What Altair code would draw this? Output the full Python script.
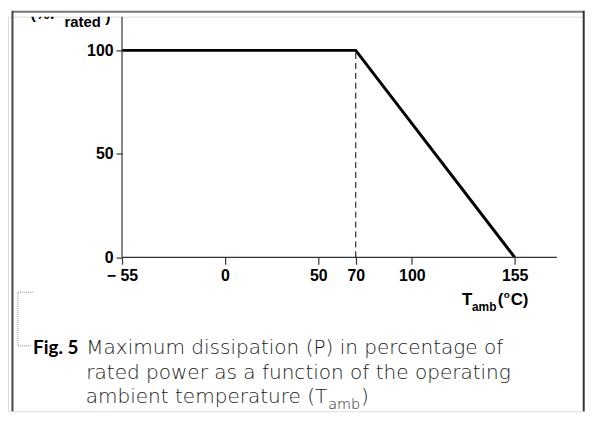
import altair as alt
import pandas as pd

# ---- data ----
temp = [-55, 70, 155]          # ambient temperature, degC
power = [100, 100, 0]          # % of rated power
x_ticks = [-55, 0, 50, 70, 100, 155]
y_ticks = [0, 50, 100]
knee_temp = [70]
knee_power = [100]
axis_x_end = [177.6]

# ---- scale geometry ----
X_DOMAIN = [-115.97, 192.61]
Y_DOMAIN = [-74.41, 116.29]
W, H = 582, 398

xs = alt.Scale(domain=X_DOMAIN, nice=False, zero=False)
ys = alt.Scale(domain=Y_DOMAIN, nice=False, zero=False)

curve = pd.DataFrame({"t": temp, "p": power})
one = pd.DataFrame({"d": [0]})

AX_FONT = "Liberation Sans"

x_axis = alt.Axis(
    values=x_ticks, domain=False, grid=False, ticks=True, tickSize=7,
    tickColor="#333333", tickWidth=1.2, labelFont=AX_FONT, labelFontWeight="bold",
    labelFontSize=16, labelColor="black", labelPadding=3, offset=-155.3,
    labelFlush=False, labelOverlap=False, title=None,
    labelExpr="datum.value == -55 ? '\u2212 55' : datum.label",
)
y_axis = alt.Axis(
    values=y_ticks, domain=False, grid=False, ticks=True, tickSize=6,
    tickColor="#333333", tickWidth=1.2, labelFont=AX_FONT, labelFontWeight="bold",
    labelFontSize=16, labelColor="black", labelPadding=3, offset=-115,
    labelFlush=False, labelOverlap=False, title=None,
)

line = alt.Chart(curve).mark_line(color="black", strokeWidth=3, strokeJoin="miter").encode(
    x=alt.X("t:Q", scale=xs, axis=x_axis),
    y=alt.Y("p:Q", scale=ys, axis=y_axis),
)

# axis lines
xline = alt.Chart(pd.DataFrame({"t": [temp[0]], "t2": axis_x_end, "p": [0]})).mark_rule(
    color="#333333", strokeWidth=1.2).encode(
    x=alt.X("t:Q", scale=xs), x2="t2:Q", y=alt.Y("p:Q", scale=ys))
yline = alt.Chart(pd.DataFrame({"t": [temp[0]], "p": [0], "p2": [Y_DOMAIN[1]]})).mark_rule(
    color="#333333", strokeWidth=1.2).encode(
    x=alt.X("t:Q", scale=xs), y=alt.Y("p:Q", scale=ys), y2="p2:Q")

# dashed knee line
dash = alt.Chart(pd.DataFrame({"t": knee_temp, "p": [0], "p2": knee_power})).mark_rule(
    color="black", strokeWidth=1, strokeDash=[6, 4]).encode(
    x=alt.X("t:Q", scale=xs), y=alt.Y("p:Q", scale=ys), y2="p2:Q")

layers = [line, xline, yline, dash]

def rule(x, y, x2=None, y2=None, color="#555555", width=2, dashp=None):
    enc = dict(x=alt.value(x), y=alt.value(y))
    if x2 is not None:
        enc["x2"] = alt.value(x2)
    if y2 is not None:
        enc["y2"] = alt.value(y2)
    kw = dict(color=color, strokeWidth=width)
    if dashp:
        kw["strokeDash"] = dashp
    return alt.Chart(one).mark_rule(**kw).encode(**enc)

# frame
layers += [
    rule(4.5, -5, x2=580.7, y2=-5, color="#777777", width=2),
    rule(4.5, -6, y2=H, color="#444444", width=2),
    rule(580.7, -6, y2=H, color="#333333", width=2),
]

# dotted bracket
layers += [
    rule(10, 278, y2=332, color="#888888", width=1, dashp=[1, 1]),
    rule(10, 278, x2=26, y2=278, color="#888888", width=1, dashp=[1, 1]),
    rule(10, 332, x2=24, y2=332, color="#888888", width=1, dashp=[1, 1]),
]

def txt(s, x, y, size, font=AX_FONT, weight="bold", align="left", color="black", clip=False):
    return alt.Chart(one).mark_text(
        text=s, font=font, fontSize=size, fontWeight=weight, align=align,
        baseline="alphabetic", color=color, clip=clip,
    ).encode(x=alt.value(x), y=alt.value(y))

# x-axis title T_amb (oC)
layers += [
    txt("T", 458, 291, 17),
    txt("amb", 468, 297, 12),
    txt("(", 494, 291, 17),
    txt("o", 500, 284, 10),
    txt("C)", 507, 291, 17),
]

# clipped y-axis title (%P_rated)
layers += [
    txt("(%P", 53, 2, 16, align="right", clip=True),
    txt("rated", 57, 10, 15, clip=True),
    txt(")", 98, 5, 16, clip=True),
]

# caption
CAP = "DejaVu Sans"
CAPC = "#1a1a1a"
CS = 20.2
layers += [
    txt("Fig. 5", 71, 340, 19, font="Lato", weight="bold", align="right", color="black"),
    txt("Maximum dissipation (P) in percentage of", 79, 340, CS, font=CAP, weight=200, color=CAPC),
    txt("rated power as a function of the operating", 79, 365, CS, font=CAP, weight=200, color=CAPC),
    txt("ambient temperature (T", 322, 390, CS, font=CAP, weight=200, align="right", color=CAPC),
    txt("amb", 323, 396, 14.5, font=CAP, weight=200, color=CAPC),
    txt(")", 356, 390, CS, font=CAP, weight=200, color=CAPC),
]

chart = alt.layer(*layers).properties(
    width=W, height=H,
    autosize=alt.AutoSizeParams(type="none"),
    padding={"left": 0, "top": 7, "right": 0, "bottom": 0},
).configure_view(stroke=None).configure(background="white")

chart.save("out.html", embed_options={"renderer": "svg", "actions": False})
